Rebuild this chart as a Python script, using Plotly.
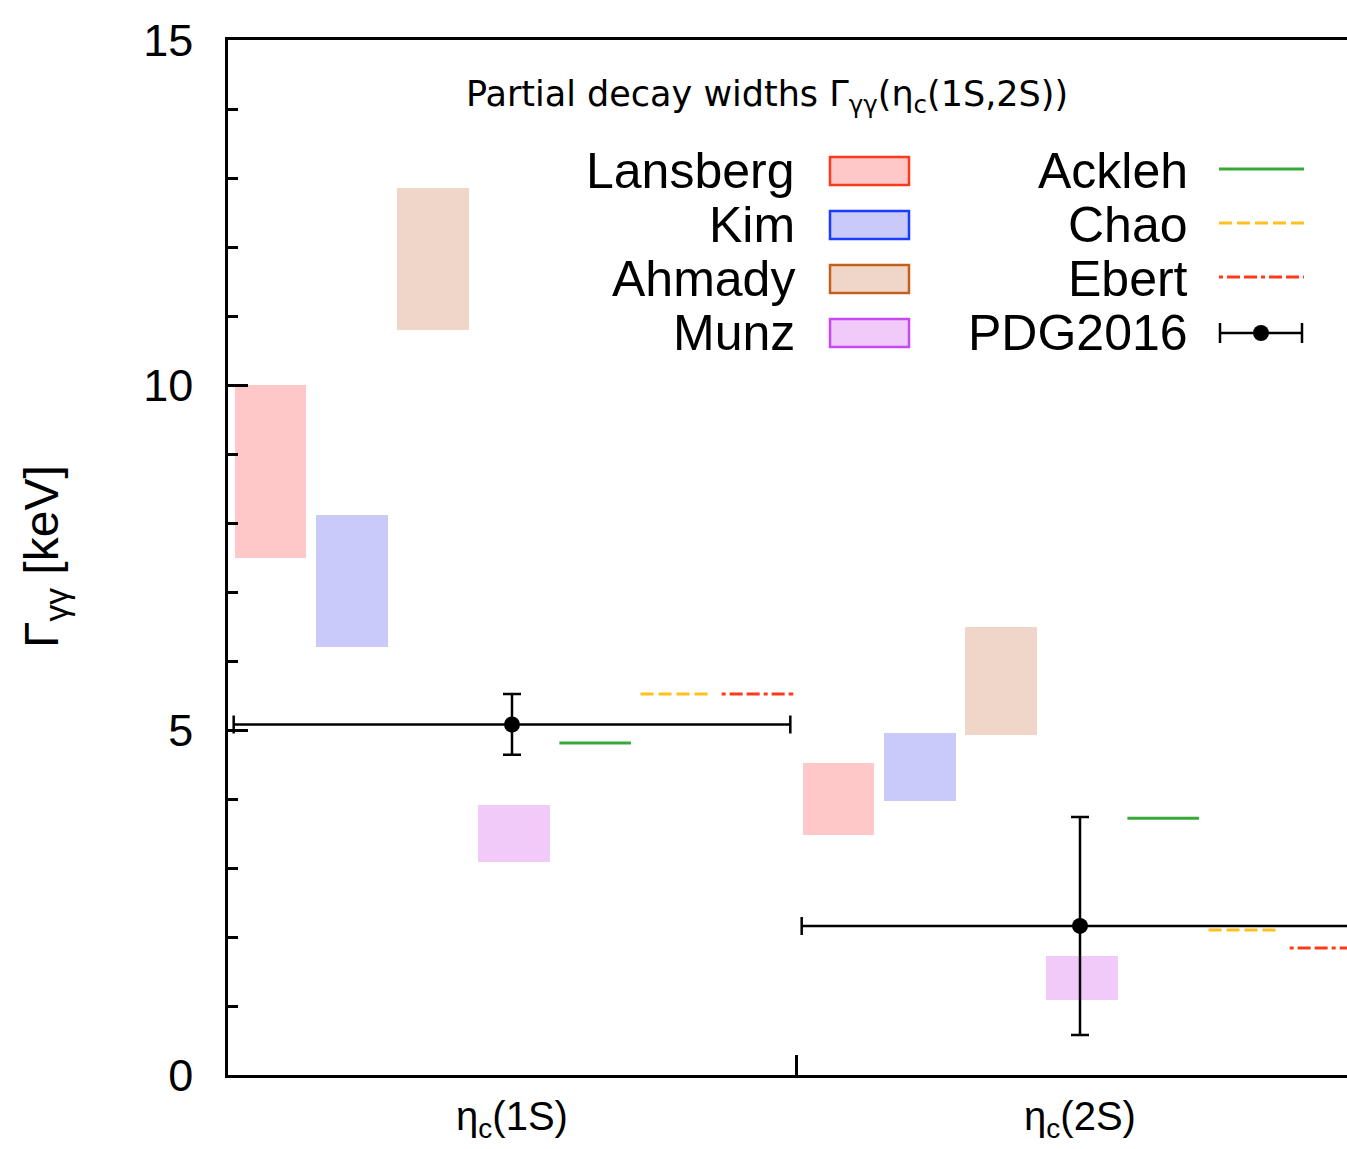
import plotly.graph_objects as go

# Two-photon partial widths of eta_c(1S) and eta_c(2S), keV
states = ["η<sub>c</sub>(1S)", "η<sub>c</sub>(2S)"]
state_pos = [0.5, 1.5]

lansberg_lo = [7.5, 3.48]
lansberg_hi = [10.0, 4.52]
kim_lo = [6.2, 3.97]
kim_hi = [8.12, 4.96]
ahmady_lo = [10.8, 4.93]
ahmady_hi = [12.86, 6.49]
munz_lo = [3.09, 1.09]
munz_hi = [3.91, 1.72]

ackleh = [4.81, 3.72]
chao = [5.52, 2.10]
ebert = [5.52, 1.84]

pdg_val = [5.08, 2.16]
pdg_err = [0.44, 1.58]

W, H = 1347, 1149
L, T, B = 228, 40, 74
PW, PH = W - L, H - T - B
XMAX = PW / 568.0
FONT = "Liberation Sans, Arial, sans-serif"

SLOT = 1.0 / 7.0
PAD_L, PAD_R = 0.012, 0.138


def slot_x(i):
    return [g + i * SLOT + PAD_L for g in range(2)], [g + i * SLOT + PAD_R for g in range(2)]


fig = go.Figure()

bands = [
    ("Lansberg", lansberg_lo, lansberg_hi, "rgba(255,200,200,1)", "#ff3a1a"),
    ("Kim", kim_lo, kim_hi, "rgba(202,202,250,1)", "#1a3cff"),
    ("Ahmady", ahmady_lo, ahmady_hi, "rgba(240,214,200,1)", "#c4601c"),
    ("Munz", munz_lo, munz_hi, "rgba(241,202,250,1)", "#c848f4"),
]
for i, (name, lo, hi, fill, edge) in enumerate(bands):
    x0, x1 = slot_x(i)
    fig.add_trace(go.Bar(
        x=[(a + b) / 2 for a, b in zip(x0, x1)],
        y=[h - l for l, h in zip(lo, hi)],
        base=lo,
        width=[b - a for a, b in zip(x0, x1)],
        marker=dict(color=fill, line=dict(width=0)),
        name=name, showlegend=False, hoverinfo="skip",
    ))

levels = [
    ("Ackleh", ackleh, "#38a838", "solid"),
    ("Chao", chao, "#ffc020", "13px,5px"),
    ("Ebert", ebert, "#ff3a1a", "4px,4px,13px,4px,13px,4px"),
]
for j, (name, vals, color, dash) in enumerate(levels):
    x0, x1 = slot_x(4 + j)
    xs, ys = [], []
    for a, b, v in zip(x0, x1, vals):
        xs += [a, b, None]
        ys += [v, v, None]
    fig.add_trace(go.Scatter(
        x=xs, y=ys, mode="lines", name=name, showlegend=False,
        line=dict(color=color, width=3, dash=dash), hoverinfo="skip",
    ))

fig.add_trace(go.Scatter(
    x=state_pos, y=pdg_val, mode="markers", name="PDG2016", showlegend=False,
    marker=dict(color="black", size=16),
    error_y=dict(type="data", array=pdg_err, color="black", thickness=2.5, width=9),
    error_x=dict(type="data", array=[0.49, 0.49], color="black", thickness=2.5, width=9),
    hoverinfo="skip",
))


def px(xp):
    return (xp - L) / PW


def py(yp):
    return (H - B - yp) / PH


shapes = []
annotations = []

# key, left column: filled boxes
rows = [171, 225, 279, 333]
for (name, lo, hi, fill, edge), yc in zip(bands, rows):
    annotations.append(dict(
        x=px(797), y=py(yc), xref="paper", yref="paper", text=name,
        xanchor="right", yanchor="middle", showarrow=False,
        font=dict(family=FONT, size=50, color="black"),
    ))
    shapes.append(dict(
        type="rect", xref="paper", yref="paper",
        x0=px(830), x1=px(909), y0=py(yc - 14), y1=py(yc + 14),
        fillcolor=fill, line=dict(color=edge, width=2.5),
    ))

# key, right column: level lines and the PDG point
rows2 = [169, 223, 277, 333]
for (name, vals, color, dash), yc in zip(levels, rows2[:3]):
    annotations.append(dict(
        x=px(1190), y=py(yc + 2), xref="paper", yref="paper", text=name,
        xanchor="right", yanchor="middle", showarrow=False,
        font=dict(family=FONT, size=50, color="black"),
    ))
    shapes.append(dict(
        type="line", xref="paper", yref="paper",
        x0=px(1219), x1=px(1304), y0=py(yc), y1=py(yc),
        line=dict(color=color, width=3, dash=dash),
    ))

yc = rows2[3]
annotations.append(dict(
    x=px(1190), y=py(yc), xref="paper", yref="paper", text="PDG2016",
    xanchor="right", yanchor="middle", showarrow=False,
    font=dict(family=FONT, size=50, color="black"),
))
shapes.append(dict(type="line", xref="paper", yref="paper",
                   x0=px(1220), x1=px(1302), y0=py(yc), y1=py(yc),
                   line=dict(color="black", width=2.5)))
for xe in (1220, 1302):
    shapes.append(dict(type="line", xref="paper", yref="paper",
                       x0=px(xe), x1=px(xe), y0=py(yc - 10), y1=py(yc + 10),
                       line=dict(color="black", width=2.5)))
shapes.append(dict(type="circle", xref="paper", yref="paper",
                   x0=px(1253), x1=px(1269), y0=py(yc - 8), y1=py(yc + 8),
                   fillcolor="black", line=dict(color="black", width=0)))

# key title
annotations.append(dict(
    x=px(767), y=py(97), xref="paper", yref="paper",
    text="Partial decay widths Γ<sub>γγ</sub>(η<sub>c</sub>(1S,2S))",
    xanchor="center", yanchor="middle", showarrow=False,
    font=dict(family="DejaVu Sans, sans-serif", size=35, color="black"),
))

# y-axis title
annotations.append(dict(
    x=0, y=py(557), xref="paper", yref="paper", xshift=-183,
    text="Γ<sub>γγ</sub> [keV]", textangle=-90,
    xanchor="center", yanchor="middle", showarrow=False,
    font=dict(family=FONT, size=48, color="black"),
))

fig.update_layout(
    width=W, height=H,
    margin=dict(l=L, r=0, t=T, b=B, pad=0, autoexpand=False),
    paper_bgcolor="white", plot_bgcolor="white",
    barmode="overlay", bargap=0,
    showlegend=False,
    shapes=shapes, annotations=annotations,
    font=dict(family=FONT, color="black"),
)
fig.update_xaxes(
    range=[0, XMAX], showgrid=False, zeroline=False, automargin=False,
    showline=True, linecolor="black", linewidth=2.5, mirror=True,
    tickvals=state_pos, ticktext=states, ticks="",
    tickfont=dict(family=FONT, size=40, color="black"),
    ticklabelstandoff=4,
    minor=dict(tickvals=[1], ticks="inside", ticklen=20, tickwidth=2.5, tickcolor="black"),
)
fig.update_yaxes(
    range=[0, 15], showgrid=False, zeroline=False, automargin=False,
    showline=True, linecolor="black", linewidth=2.5, mirror=False,
    tickvals=[0, 5, 10, 15], ticks="inside", ticklen=20, tickwidth=2.5, tickcolor="black",
    tickfont=dict(family=FONT, size=45, color="black"),
    ticklabelstandoff=23,
    minor=dict(dtick=1, ticks="inside", ticklen=10, tickwidth=2.5, tickcolor="black"),
)

fig.write_html("out.html")
